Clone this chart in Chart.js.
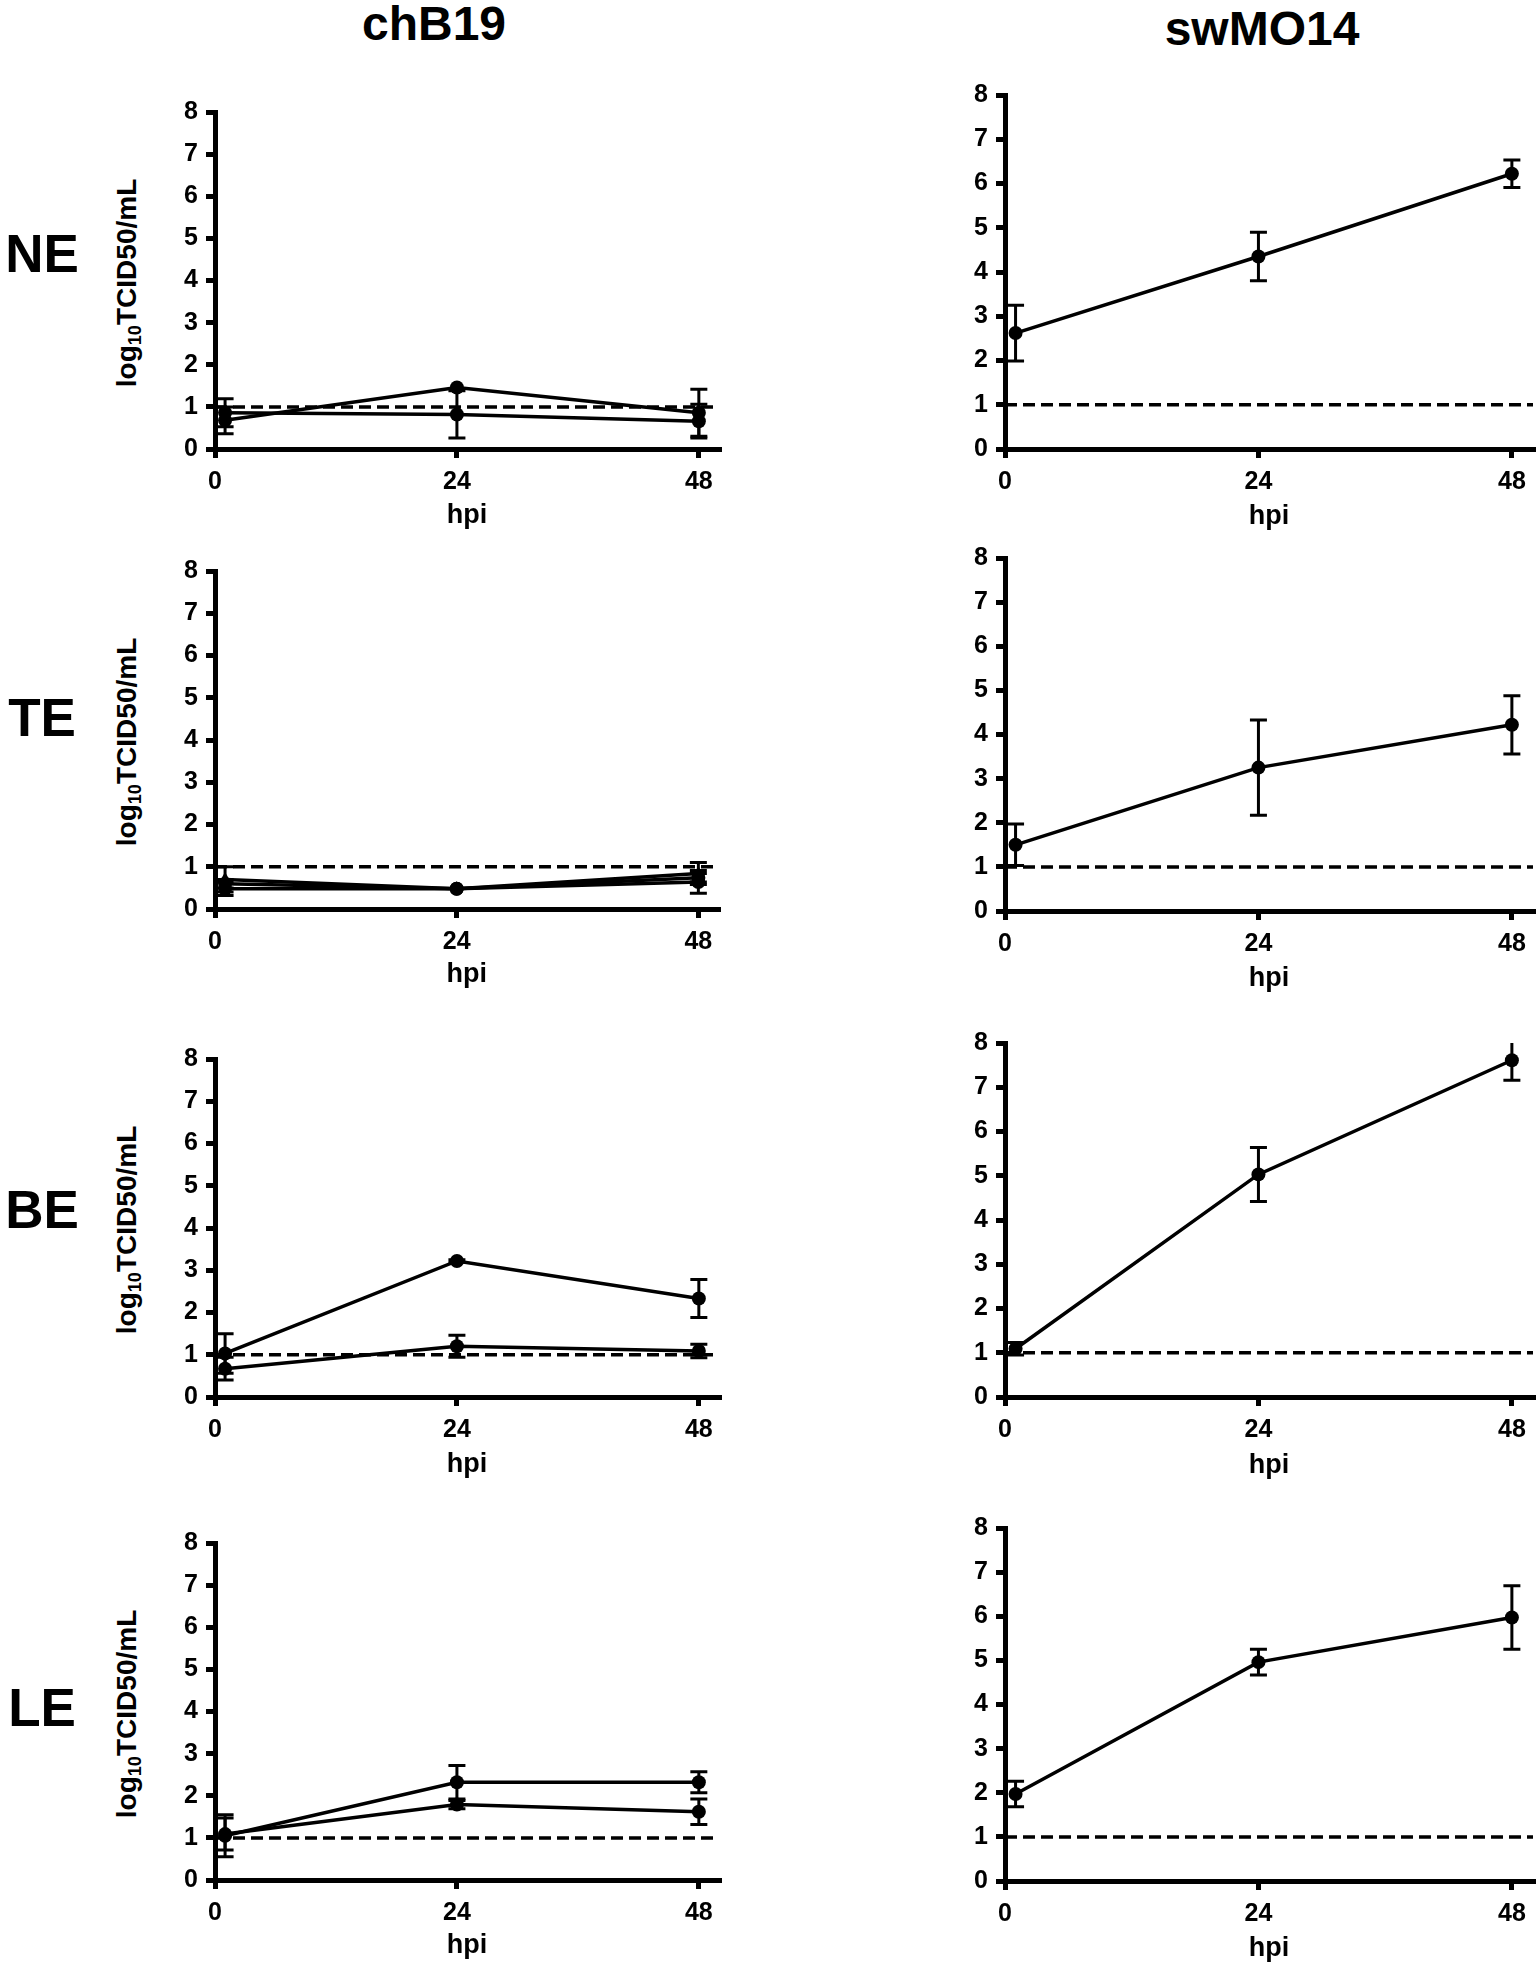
<!DOCTYPE html>
<html>
<head>
<meta charset="utf-8">
<script src="https://cdn.jsdelivr.net/npm/chart.js@4.4.1/dist/chart.umd.min.js"></script>
<style>
html,body{margin:0;padding:0;background:#fff;}
body{width:1540px;height:1971px;position:relative;overflow:hidden;font-family:"Liberation Sans",Arial,Helvetica,sans-serif;font-weight:bold;color:#000;}
.lbl{position:absolute;transform:translate(-50%,-50%);white-space:nowrap;line-height:1;}
.col{font-size:48px;}
.row{font-size:53px;}
.ytitle{position:absolute;font-size:28px;line-height:1;white-space:nowrap;transform:translate(-50%,-50%) rotate(-90deg);}
.ytitle sub{font-size:0.65em;vertical-align:baseline;position:relative;top:0.3em;}
canvas{position:absolute;}
</style>
</head>
<body>
<script>
// ---------------- data ----------------
const hours = [1, 24, 48];
const xTickValues = [0, 24, 48];
const yMin = 0, yMax = 8, yStep = 1;
const xMin = 0, xMax = 50;
const detectionLimit = 1;
const rowLabels = ['NE', 'TE', 'BE', 'LE'];
const colLabels = ['chB19', 'swMO14'];
const xTitle = 'hpi';

// chB19 (several curves per tissue)
const NE_chB19_a = [0.68, 1.46, 0.86], NE_chB19_a_err = [0.32, 0.00, 0.56];
const NE_chB19_b = [0.86, 0.82, 0.66], NE_chB19_b_err = [0.33, 0.56, 0.40];
const TE_chB19_a = [0.48, 0.48, 0.64], TE_chB19_a_err = [0.16, 0.00, 0.27];
const TE_chB19_b = [0.60, 0.48, 0.74], TE_chB19_b_err = [0.10, 0.00, 0.10];
const TE_chB19_c = [0.70, 0.48, 0.84], TE_chB19_c_err = [0.30, 0.00, 0.26];
const BE_chB19_a = [1.03, 3.22, 2.33], BE_chB19_a_err = [0.47, 0.03, 0.45];
const BE_chB19_b = [0.67, 1.20, 1.09], BE_chB19_b_err = [0.27, 0.26, 0.16];
const LE_chB19_a = [1.05, 2.32, 2.32], LE_chB19_a_err = [0.50, 0.40, 0.25];
const LE_chB19_b = [1.09, 1.79, 1.62], LE_chB19_b_err = [0.38, 0.10, 0.30];

// swMO14
const NE_swMO14 = [2.62, 4.35, 6.22], NE_swMO14_err = [0.63, 0.55, 0.31];
const TE_swMO14 = [1.50, 3.25, 4.22], TE_swMO14_err = [0.47, 1.08, 0.66];
const BE_swMO14 = [1.09, 5.03, 7.61], BE_swMO14_err = [0.14, 0.61, 0.45];
const LE_swMO14 = [1.97, 4.96, 5.97], LE_swMO14_err = [0.29, 0.29, 0.72];

// ---------------- layout ----------------
const panels = [
  {series:[[NE_chB19_a,NE_chB19_a_err,'circle'],[NE_chB19_b,NE_chB19_b_err,'circle']], l:215, r:720, t:112, b:449, titleY:516, ytitle:true},
  {series:[[NE_swMO14,NE_swMO14_err,'circle']], l:1005, r:1534, t:95, b:449, titleY:517},
  {series:[[TE_chB19_a,TE_chB19_a_err,'circle'],[TE_chB19_b,TE_chB19_b_err,'circle'],[TE_chB19_c,TE_chB19_c_err,'triangle']], l:215, r:720, t:571, b:909, titleY:975, ytitle:true},
  {series:[[TE_swMO14,TE_swMO14_err,'circle']], l:1005, r:1534, t:558, b:911, titleY:979},
  {series:[[BE_chB19_a,BE_chB19_a_err,'circle'],[BE_chB19_b,BE_chB19_b_err,'circle']], l:215, r:720, t:1059, b:1397, titleY:1465, ytitle:true},
  {series:[[BE_swMO14,BE_swMO14_err,'circle']], l:1005, r:1534, t:1043, b:1397, titleY:1466},
  {series:[[LE_chB19_a,LE_chB19_a_err,'circle'],[LE_chB19_b,LE_chB19_b_err,'circle']], l:215, r:720, t:1543, b:1880, titleY:1946, ytitle:true},
  {series:[[LE_swMO14,LE_swMO14_err,'circle']], l:1005, r:1534, t:1528, b:1881, titleY:1949}
];
const rowPos = [[42,253],[42,717],[42,1209],[42,1707]];
const colPos = [[434,24],[1262,29]];

Chart.defaults.font.family = '"Liberation Sans", Arial, Helvetica, sans-serif';
Chart.defaults.font.weight = 'bold';
Chart.defaults.color = '#000';

function addLabel(text, cls, x, y) {
  const d = document.createElement('div');
  d.className = 'lbl ' + cls;
  d.style.left = x + 'px'; d.style.top = y + 'px';
  d.textContent = text;
  document.body.appendChild(d);
}
colLabels.forEach((c, i) => addLabel(c, 'col', colPos[i][0], colPos[i][1]));
rowLabels.forEach((r, i) => addLabel(r, 'row', rowPos[i][0], rowPos[i][1]));

const errorBarPlugin = {
  id: 'errorBars',
  beforeDatasetsDraw(chart) {
    const {ctx, chartArea, scales} = chart;
    const xs = scales.x, ys = scales.y;
    ctx.save();
    ctx.beginPath();
    ctx.rect(chartArea.left - 30, chartArea.top, chartArea.right - chartArea.left + 60, chartArea.bottom - chartArea.top);
    ctx.clip();
    ctx.strokeStyle = '#000';
    ctx.lineWidth = 3;
    ctx.lineCap = 'butt';
    chart.data.datasets.forEach(ds => {
      if (!ds.errors) return;
      ds.data.forEach((pt, i) => {
        const e = ds.errors[i];
        if (!e) return;
        const px = xs.getPixelForValue(pt.x);
        const yTop = ys.getPixelForValue(pt.y + e);
        const yBot = ys.getPixelForValue(pt.y - e);
        const cap = 8.5;
        ctx.beginPath();
        ctx.moveTo(px, yTop); ctx.lineTo(px, yBot);
        ctx.moveTo(px - cap, yTop); ctx.lineTo(px + cap, yTop);
        ctx.moveTo(px - cap, yBot); ctx.lineTo(px + cap, yBot);
        ctx.stroke();
      });
    });
    ctx.restore();
  }
};

const PAD_T = 28, Y_W = 62, PAD_R = 6, TITLE_SIZE = 27, TITLE_LH = TITLE_SIZE * 1.2;
const TICK_SIZE = 25, AXIS_W = 5;

panels.forEach(p => {
  const xH = Math.round(p.titleY - p.b + TITLE_LH / 2);
  const left = p.l - Y_W, top = p.t - PAD_T;
  const w = p.r - p.l + Y_W + PAD_R;
  const h = p.b - p.t + PAD_T + xH;
  const cv = document.createElement('canvas');
  cv.width = w; cv.height = h;
  cv.style.left = left + 'px'; cv.style.top = top + 'px';
  cv.style.width = w + 'px'; cv.style.height = h + 'px';
  document.body.appendChild(cv);

  if (p.ytitle) {
    const d = document.createElement('div');
    d.className = 'ytitle';
    d.style.left = '127px';
    d.style.top = ((p.t + p.b) / 2 + 2) + 'px';
    d.innerHTML = 'log<sub>10</sub>TCID50/mL';
    document.body.appendChild(d);
  }

  const datasets = p.series.map(([vals, errs, style]) => ({
    data: hours.map((hr, i) => ({x: hr, y: vals[i]})),
    errors: errs,
    borderColor: '#000',
    backgroundColor: '#000',
    borderWidth: 3.5,
    pointRadius: style === 'triangle' ? 7.5 : 7,
    pointStyle: style,
    pointBackgroundColor: '#000',
    pointBorderColor: '#000',
    pointBorderWidth: 0,
    tension: 0,
    fill: false
  }));
  datasets.push({
    data: [{x: xMin, y: detectionLimit}, {x: xMax, y: detectionLimit}],
    borderColor: '#000',
    borderWidth: 3.5,
    borderDash: [12, 6],
    pointRadius: 0,
    fill: false
  });

  new Chart(cv, {
    type: 'line',
    data: {datasets},
    plugins: [errorBarPlugin],
    options: {
      responsive: false,
      animation: false,
      devicePixelRatio: 1,
      layout: {padding: {top: PAD_T, right: PAD_R, bottom: 0, left: 0}},
      plugins: {legend: {display: false}, tooltip: {enabled: false}},
      scales: {
        x: {
          type: 'linear', min: xMin, max: xMax,
          afterBuildTicks: s => { s.ticks = xTickValues.map(v => ({value: v})); },
          afterFit: s => { s.height = xH; },
          grid: {display: true, drawOnChartArea: false, drawTicks: true, tickLength: 9, lineWidth: AXIS_W, color: '#000'},
          border: {display: true, width: AXIS_W, color: '#000'},
          ticks: {font: {size: TICK_SIZE, weight: 'bold'}, color: '#000', padding: 9, maxRotation: 0},
          title: {display: true, text: xTitle, font: {size: TITLE_SIZE, weight: 'bold'}, color: '#000', padding: 0}
        },
        y: {
          type: 'linear', min: yMin, max: yMax,
          afterFit: s => { s.width = Y_W; },
          grid: {display: true, drawOnChartArea: false, drawTicks: true, tickLength: 9, lineWidth: AXIS_W, color: '#000'},
          border: {display: true, width: AXIS_W, color: '#000'},
          ticks: {stepSize: yStep, font: {size: TICK_SIZE, weight: 'bold'}, color: '#000', padding: 8}
        }
      }
    }
  });
});
</script>
</body>
</html>
